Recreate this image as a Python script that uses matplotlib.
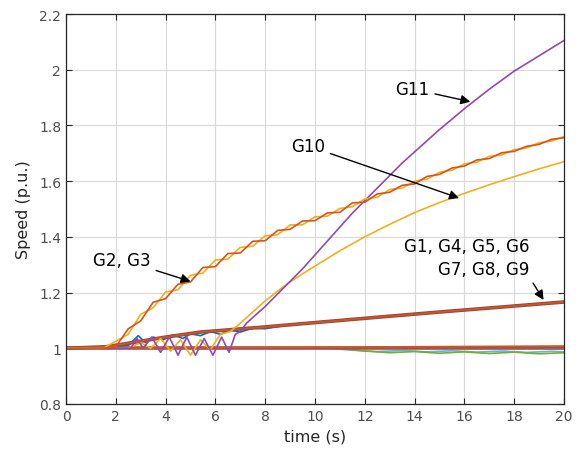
import matplotlib
matplotlib.use("Agg")
import matplotlib.pyplot as plt

plt.rcParams['font.family'] = ['DejaVu Sans']

# G2, G3 (twisted pair)
t_g23 = [0, 1.5, 2.0, 2.5, 3.0, 3.5, 4.0, 4.5, 5.0, 5.5, 6.0, 6.5, 7.0, 7.5, 8.0, 8.5, 9.0, 9.5, 10.0,
         10.5, 11.0, 11.5, 12.0, 12.5, 13.0, 13.5, 14.0, 14.5, 15.0, 15.5, 16.0, 16.5, 17.0, 17.5,
         18.0, 18.5, 19.0, 19.5, 20.0]
g2 = [1.0, 1.0, 1.025, 1.05, 1.122, 1.145, 1.202, 1.21, 1.262, 1.27, 1.317, 1.32, 1.362, 1.366, 1.404,
      1.407, 1.443, 1.443, 1.472, 1.474, 1.502, 1.508, 1.536, 1.542, 1.57, 1.575, 1.6, 1.607, 1.632,
      1.639, 1.662, 1.668, 1.689, 1.694, 1.713, 1.719, 1.738, 1.744, 1.76]
g3 = [1.0, 1.0, 1.005, 1.07, 1.098, 1.165, 1.178, 1.23, 1.238, 1.29, 1.293, 1.34, 1.342, 1.384, 1.386,
      1.423, 1.427, 1.457, 1.458, 1.486, 1.488, 1.522, 1.524, 1.554, 1.56, 1.585, 1.59, 1.617, 1.624,
      1.647, 1.654, 1.676, 1.681, 1.702, 1.707, 1.725, 1.732, 1.75, 1.756]

# G10
t_g10 = [0, 2.5, 3.0, 3.4, 3.8, 4.2, 4.6, 5.0, 5.4, 5.8, 6.2, 6.6, 7.0, 7.5, 8, 8.5, 9, 9.5, 10, 11,
         12, 13, 14, 15, 16, 17, 18, 19, 20]
g10 = [1.0, 1.0, 1.02, 1.0, 1.035, 0.99, 1.03, 0.975, 1.03, 0.995, 1.05, 1.06, 1.09, 1.13, 1.17, 1.205,
       1.238, 1.267, 1.295, 1.35, 1.40, 1.445, 1.487, 1.523, 1.556, 1.587, 1.616, 1.644, 1.67]

# G11
t_g11 = [0, 2.6, 2.85, 3.1, 3.45, 3.8, 4.15, 4.5, 4.85, 5.2, 5.55, 5.9, 6.25, 6.55, 6.8, 7.0, 7.25,
         7.5, 8, 8.5, 9, 9.5, 10, 10.5, 11, 11.5, 12, 12.5, 13, 13.5, 14, 15, 16, 17, 18, 19, 20]
g11 = [1.0, 1.0, 1.035, 1.0, 1.04, 0.985, 1.04, 0.975, 1.04, 0.975, 1.035, 0.975, 1.04, 0.985, 1.05,
       1.06, 1.09, 1.11, 1.15, 1.195, 1.24, 1.285, 1.335, 1.385, 1.435, 1.485, 1.53, 1.575, 1.62,
       1.665, 1.705, 1.785, 1.86, 1.93, 1.995, 2.05, 2.105]

# G1 (noisy, rising slowly)
t_g1 = [0, 2.5, 2.9, 3.2, 3.5, 3.9, 4.3, 4.7, 5.0, 5.4, 5.8, 6.2, 6.6, 7.0, 7.5, 8.0, 9, 10, 11, 12,
        13, 14, 15, 16, 17, 18, 19, 20]
g1 = [1.0, 1.01, 1.045, 1.02, 1.04, 1.03, 1.048, 1.035, 1.052, 1.045, 1.06, 1.05, 1.065, 1.058, 1.072,
      1.07, 1.085, 1.093, 1.1, 1.108, 1.115, 1.123, 1.13, 1.138, 1.145, 1.152, 1.159, 1.166]

# other slow rising group (G7, G8, G9)
t_rise = [0, 1.6, 3, 4, 5.4, 7.8, 10, 12.6, 15, 20]
rise = [1.0, 1.005, 1.025, 1.04, 1.058, 1.075, 1.092, 1.112, 1.13, 1.166]

# near-constant group
t_flat = [0, 20]
flat = [1.0, 1.0]
t_flat2 = [0, 11, 20]
flat2 = [1.0, 1.004, 1.008]
t_cyan = [0, 10.5, 11.5, 12.5, 13.5, 14.5, 15.5, 16.5, 17.5, 18.5, 19.5, 20]
cyan = [1.0, 1.0, 0.993, 0.988, 0.992, 0.987, 0.991, 0.986, 0.99, 0.985, 0.989, 0.987]
t_green = [0, 10.8, 12, 13, 14, 15, 16, 17, 18, 19, 20]
green = [1.0, 1.0, 0.99, 0.984, 0.988, 0.982, 0.987, 0.981, 0.986, 0.98, 0.984]

fig = plt.figure(figsize=(5.79, 4.56), dpi=100)
ax = fig.add_axes([0.114, 0.112, 0.860, 0.855])

lw = 1.2
ax.plot(t_cyan, cyan, color='#4DBEEE', lw=lw)
ax.plot(t_green, green, color='#77AC30', lw=lw)
ax.plot(t_flat, flat, color='#9C5454', lw=2.6)
ax.plot(t_flat2, flat2, color='#D95319', lw=lw)
ax.plot(t_g1, g1, color='#0072BD', lw=lw)
ax.plot(t_rise, rise, color='#8C4A4A', lw=2.6)
ax.plot(t_rise, rise, color='#D95319', lw=lw)
ax.plot(t_g10, g10, color='#EDB120', lw=lw)
ax.plot(t_g11, g11, color='#9249B0', lw=lw)
ax.plot(t_g23, g2, color='#EDB120', lw=lw)
ax.plot(t_g23, g3, color='#D95319', lw=lw)

ax.set_xlim(0, 20)
ax.set_ylim(0.8, 2.2)
ax.set_xticks(range(0, 21, 2))
ax.set_yticks([0.8, 1.0, 1.2, 1.4, 1.6, 1.8, 2.0, 2.2])
ax.set_yticklabels(['0.8', '1', '1.2', '1.4', '1.6', '1.8', '2', '2.2'])
ax.grid(True, color='#d9d9d9', lw=0.8)
ax.set_axisbelow(True)
ax.tick_params(direction='in', top=True, right=True, length=4, labelsize=10, colors='#262626',
               labelcolor='#4d4d4d')
for s in ax.spines.values():
    s.set_color('#262626')
    s.set_linewidth(0.9)
ax.set_xlabel('time (s)', fontsize=11.5, color='#262626')
ax.set_ylabel('Speed (p.u.)', fontsize=11.5, color='#262626', labelpad=6)

fs = 12
akw = dict(arrowstyle='-|>', color='black', lw=1.0, mutation_scale=14)
ax.annotate('G11', xy=(16.35, 1.883), xytext=(14.6, 1.931), fontsize=fs, ha='right', va='center',
            arrowprops=akw)
ax.annotate('G10', xy=(15.89, 1.536), xytext=(10.4, 1.727), fontsize=fs, ha='right', va='center',
            arrowprops=akw)
ax.annotate('G2, G3', xy=(5.11, 1.237), xytext=(3.4, 1.318), fontsize=fs, ha='right', va='center',
            arrowprops=akw)
ax.text(18.63, 1.368, 'G1, G4, G5, G6', fontsize=fs, ha='right', va='center')
ax.annotate('G7, G8, G9', xy=(19.24, 1.165), xytext=(18.63, 1.285), fontsize=fs, ha='right',
            va='center', arrowprops=dict(arrowstyle='-|>', color='black', lw=1.0, mutation_scale=14,
                                         relpos=(1.0, 0.0)))

plt.savefig('out.png', dpi=100)
